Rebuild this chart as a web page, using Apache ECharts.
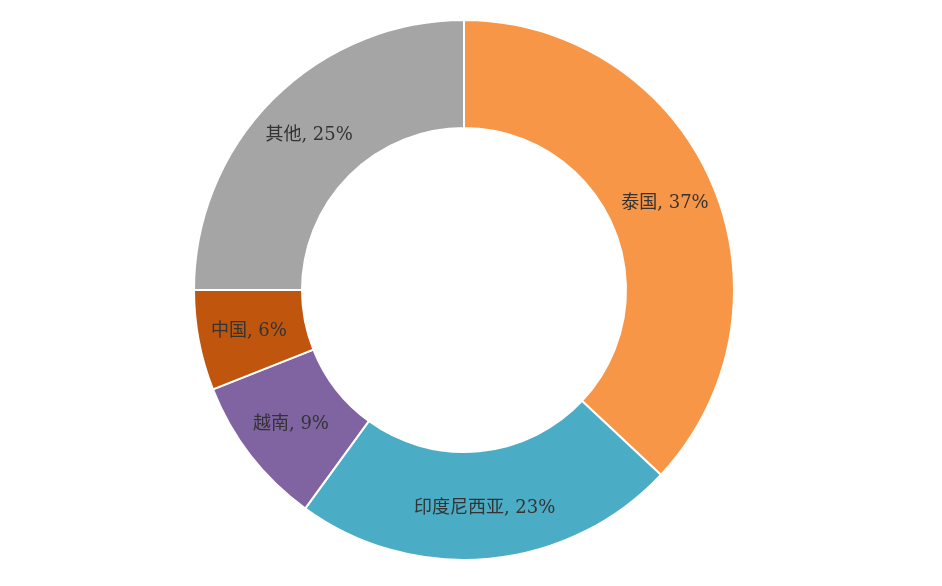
<!DOCTYPE html>
<html>
<head>
<meta charset="utf-8">
<script src="https://cdn.jsdelivr.net/npm/echarts@6/dist/echarts.min.js"></script>
<style>html,body{margin:0;padding:0;background:#fff;}#chart{width:942px;height:586px;}</style>
</head>
<body>
<div id="chart"></div>
<script>
var categories = ['泰国', '印度尼西亚', '越南', '中国', '其他'];
var values = [37, 23, 9, 6, 25];
var colors = ['#F79646', '#4BACC6', '#8064A2', '#C0560E', '#A5A5A5'];

var myChart = echarts.init(document.getElementById('chart'));
var data = categories.map(function(name, i) {
	return { name: name, value: values[i] };
});
myChart.setOption({
	color: colors,
	animation: false,
	series: [{
		type: 'pie',
		center: [464, 290],
		radius: [162, 270],
		startAngle: 90,
		clockwise: true,
		itemStyle: { borderColor: '#fff', borderWidth: 2 },
		label: {
			show: true,
			position: 'inside',
			formatter: '{b}, {c}%',
			color: '#333',
			fontSize: 18,
			fontFamily: 'DejaVu Serif, Noto Sans CJK SC, serif'
		},
		labelLine: { show: false },
		data: data
	}]
});
</script>
</body>
</html>
